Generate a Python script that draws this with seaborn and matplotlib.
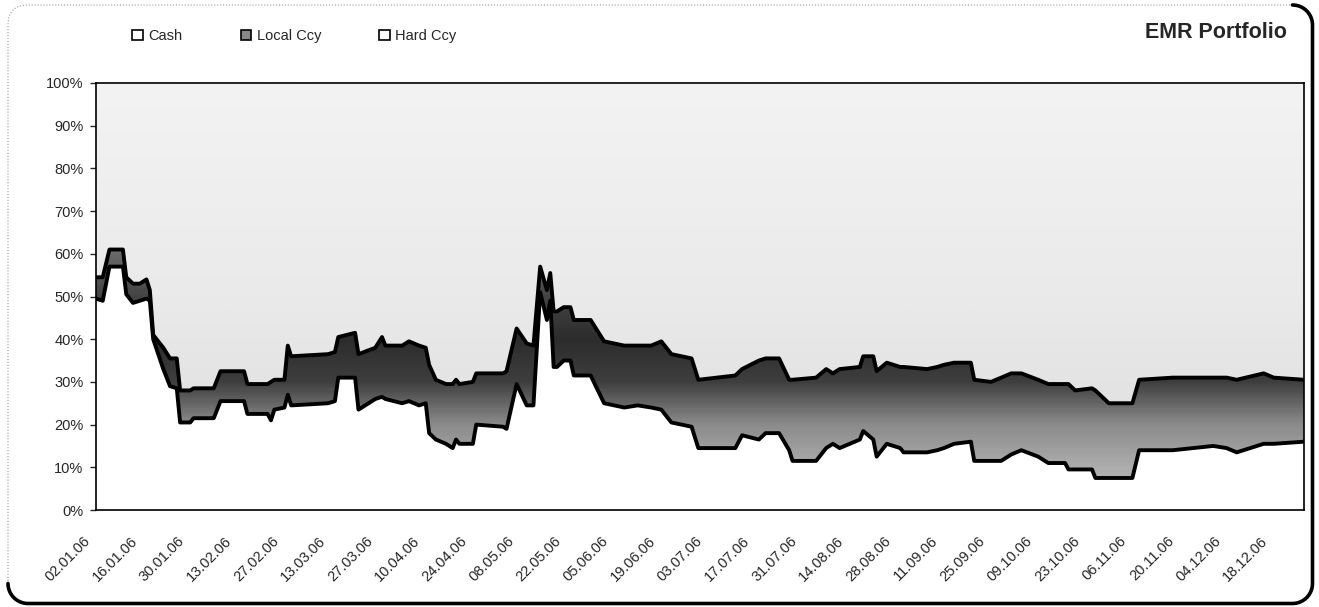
import numpy as np
import pandas as pd
import matplotlib
matplotlib.use('Agg')
import matplotlib.pyplot as plt
import matplotlib.dates as mdates
import matplotlib.transforms as mtransforms
from matplotlib.colors import LinearSegmentedColormap
from matplotlib.patches import Patch, FancyBboxPatch
from matplotlib.lines import Line2D
import seaborn as sns

# data (share of portfolio, %)
dates = [
    '2006-01-02', '2006-01-04', '2006-01-06', '2006-01-10', '2006-01-11', '2006-01-13',
    '2006-01-15', '2006-01-17', '2006-01-18', '2006-01-19', '2006-01-22', '2006-01-24',
    '2006-01-26', '2006-01-27', '2006-01-30', '2006-01-31', '2006-02-06', '2006-02-08',
    '2006-02-15', '2006-02-16', '2006-02-22', '2006-02-23', '2006-02-24', '2006-02-27',
    '2006-02-28', '2006-03-01', '2006-03-12', '2006-03-14', '2006-03-15', '2006-03-20',
    '2006-03-21', '2006-03-26', '2006-03-28', '2006-03-29', '2006-04-03', '2006-04-05',
    '2006-04-08', '2006-04-10', '2006-04-11', '2006-04-13', '2006-04-16', '2006-04-18',
    '2006-04-19', '2006-04-20', '2006-04-24', '2006-04-25', '2006-05-03', '2006-05-04',
    '2006-05-07', '2006-05-10', '2006-05-12', '2006-05-14', '2006-05-16', '2006-05-17',
    '2006-05-18', '2006-05-19', '2006-05-21', '2006-05-23', '2006-05-24', '2006-05-29',
    '2006-06-02', '2006-06-08', '2006-06-12', '2006-06-16', '2006-06-19', '2006-06-22',
    '2006-06-28', '2006-06-30', '2006-07-11', '2006-07-13', '2006-07-18', '2006-07-20',
    '2006-07-24', '2006-07-27', '2006-07-28', '2006-08-04', '2006-08-07', '2006-08-09',
    '2006-08-11', '2006-08-17', '2006-08-18', '2006-08-21', '2006-08-22', '2006-08-25',
    '2006-08-29', '2006-08-30', '2006-09-06', '2006-09-09', '2006-09-11', '2006-09-14',
    '2006-09-19', '2006-09-20', '2006-09-25', '2006-09-28', '2006-10-01', '2006-10-04',
    '2006-10-09', '2006-10-12', '2006-10-17', '2006-10-18', '2006-10-20', '2006-10-25',
    '2006-10-26', '2006-10-30', '2006-11-06', '2006-11-08', '2006-11-18', '2006-11-24',
    '2006-11-30', '2006-12-04', '2006-12-07', '2006-12-15', '2006-12-18', '2006-12-27',
]
cash = [
    49.5, 49, 57, 57, 50.5, 48.5, 49, 49.5, 49, 40, 33, 29,
    28.5, 20.5, 20.5, 21.5, 21.5, 25.5, 25.5, 22.5, 22.5, 21, 23.5, 24,
    27, 24.5, 25, 25.5, 31, 31, 23.5, 26, 26.5, 26, 25, 25.5,
    24.5, 25, 18, 16.5, 15.5, 14.5, 16.5, 15.5, 15.5, 20, 19.5, 19,
    29.5, 24.5, 24.5, 51, 44.5, 49, 33.5, 33.5, 35, 35, 31.5, 31.5,
    25, 24, 24.5, 24, 23.5, 20.5, 19.5, 14.5, 14.5, 17.5, 16.5, 18,
    18, 14, 11.5, 11.5, 14.5, 15.5, 14.5, 16.5, 18.5, 16.5, 12.5, 15.5,
    14.5, 13.5, 13.5, 14, 14.5, 15.5, 16, 11.5, 11.5, 11.5, 13, 14,
    12.5, 11, 11, 9.5, 9.5, 9.5, 7.5, 7.5, 7.5, 14, 14, 14.5,
    15, 14.5, 13.5, 15.5, 15.5, 16,
]
local_ccy = [
    5, 5.5, 4, 4, 4, 4.5, 4, 4.5, 2.5, 1, 5, 6.5,
    7, 7.5, 7.5, 7, 7, 7, 7, 7, 7, 9, 7, 6.5,
    11.5, 11.5, 11.5, 11.5, 9.5, 10.5, 13, 12, 14, 12.5, 13.5, 14,
    14, 13, 16, 14, 14, 15, 14, 14, 14.5, 12, 12.5, 13.5,
    13, 14.5, 14, 6, 7, 6.5, 13, 13, 12.5, 12.5, 13, 13,
    14.5, 14.5, 14, 14.5, 16, 16, 16, 16, 17, 15.5, 18.5, 17.5,
    17.5, 16.5, 19, 19.5, 18.5, 16.5, 18.5, 17, 17.5, 19.5, 20, 19,
    19, 20, 19.5, 19.5, 19.5, 19, 18.5, 19, 18.5, 19.5, 19, 18,
    18, 18.5, 18.5, 20, 18.5, 19, 20.5, 17.5, 17.5, 16.5, 17, 16.5,
    16, 16.5, 17, 16.5, 15.5, 14.5,
]
series_names = ['Cash', 'Local Ccy', 'Hard Ccy']
tick_dates = pd.date_range('2006-01-02', '2006-12-18', freq='14D')
x_end = '2006-12-27'

x = pd.to_datetime(dates)
cash = np.array(cash, dtype=float)
local_ccy = np.array(local_ccy, dtype=float)
hard_ccy = 100 - cash - local_ccy

sns.set_style('white')
plt.rcParams['font.family'] = ['Liberation Sans', 'DejaVu Sans']

W, H = 1319, 607
fig = plt.figure(figsize=(W / 100, H / 100), dpi=100)
ax = fig.add_axes([96 / W, 1 - 510 / H, (1304 - 96) / W, (510 - 83) / H])

polys = ax.stackplot(x, cash, local_ccy, hard_ccy,
                     colors=['white', 'white', 'white'], linewidth=0, zorder=1)

# shaded gradients standing in for the stippled fills
x0 = mdates.date2num(pd.Timestamp(dates[0]))
x1 = mdates.date2num(pd.Timestamp(x_end))
grad = np.linspace(0, 1, 300).reshape(-1, 1)
band_cmap = LinearSegmentedColormap.from_list(
    'band', [(0.0, '#bdbdbd'), (0.1, '#acacac'), (0.2, '#8a8a8a'), (0.3, '#3e3e3e'),
             (0.4, '#2c2c2c'), (0.5, '#444444'), (0.62, '#707070'), (1.0, '#8a8a8a')])
top_cmap = LinearSegmentedColormap.from_list(
    'top', [(0.0, '#dedede'), (0.3, '#e4e4e4'), (0.5, '#eaeaea'), (1.0, '#f3f3f3')])
for poly, cm in ((polys[1], band_cmap), (polys[2], top_cmap)):
    im = ax.imshow(grad, extent=[x0, x1, 0, 100], origin='lower', aspect='auto',
                   cmap=cm, zorder=2)
    im.set_clip_path(poly.get_paths()[0], transform=ax.transData)

lower = cash
upper = cash + local_ccy
sns.lineplot(x=x, y=lower, color='black', linewidth=2.8, ax=ax, zorder=3)
sns.lineplot(x=x, y=upper, color='black', linewidth=2.8, ax=ax, zorder=3)

ax.set_xlim(pd.Timestamp(dates[0]), pd.Timestamp(x_end))
ax.set_ylim(0, 100)
ax.set_yticks(range(0, 101, 10))
ax.set_yticklabels([f'{v}%' for v in range(0, 101, 10)])
ax.set_xticks(tick_dates)
ax.set_xticklabels([d.strftime('%d.%m.%y') for d in tick_dates],
                   rotation=45, ha='right', rotation_mode='anchor')
ax.tick_params(axis='y', left=True, length=4, width=1, pad=5, labelsize=10.5)
ax.tick_params(axis='x', bottom=False, pad=10, labelsize=10.5)
shift = mtransforms.ScaledTranslation(-0.13, -0.05, fig.dpi_scale_trans)
for lab in ax.get_xticklabels():
    lab.set_transform(lab.get_transform() + shift)
ax.set_xlabel('')
ax.set_ylabel('')
for s in ax.spines.values():
    s.set_color('black')
    s.set_linewidth(1.2)
    s.set_zorder(4)

# legend and title
handles = [Patch(facecolor='white', edgecolor='black', linewidth=1.2),
           Patch(facecolor='#888888', edgecolor='black', linewidth=1.2),
           Patch(facecolor='white', edgecolor='black', linewidth=1.2)]
fig.legend(handles, series_names, loc='center left', bbox_to_anchor=(132 / W, 1 - 36 / H),
           ncol=3, frameon=False, fontsize=10.5, handlelength=0.75, handleheight=0.75,
           handletextpad=0.35, columnspacing=4.0, borderpad=0, borderaxespad=0)
fig.text(1287 / W, 1 - 33 / H, 'EMR Portfolio', ha='right', va='center',
         fontsize=15.5, fontweight='bold')

# rounded frame: thin on top/left, heavy on bottom/right
bx0, bx1, by0, by1, r = 0.08, 13.125, 0.035, 6.02, 0.2
frame = FancyBboxPatch((bx0, by0), bx1 - bx0, by1 - by0,
                       boxstyle=f'round,pad=0,rounding_size={r}',
                       transform=fig.dpi_scale_trans, facecolor='none',
                       edgecolor='#9a9a9a', linewidth=0.8, linestyle=':')
fig.add_artist(frame)
t1 = np.linspace(np.pi / 2, 0, 20)
t2 = np.linspace(0, -np.pi / 2, 20)
t3 = np.linspace(-np.pi / 2, -np.pi, 20)
px = np.concatenate([bx1 - r + r * np.cos(t1), bx1 - r + r * np.cos(t2),
                     bx0 + r + r * np.cos(t3)])
py = np.concatenate([by1 - r + r * np.sin(t1), by0 + r + r * np.sin(t2),
                     by0 + r + r * np.sin(t3)])
fig.add_artist(Line2D(px, py, transform=fig.dpi_scale_trans, color='black',
                      linewidth=2.6, solid_capstyle='round'))

fig.savefig('out.png', dpi=100)
